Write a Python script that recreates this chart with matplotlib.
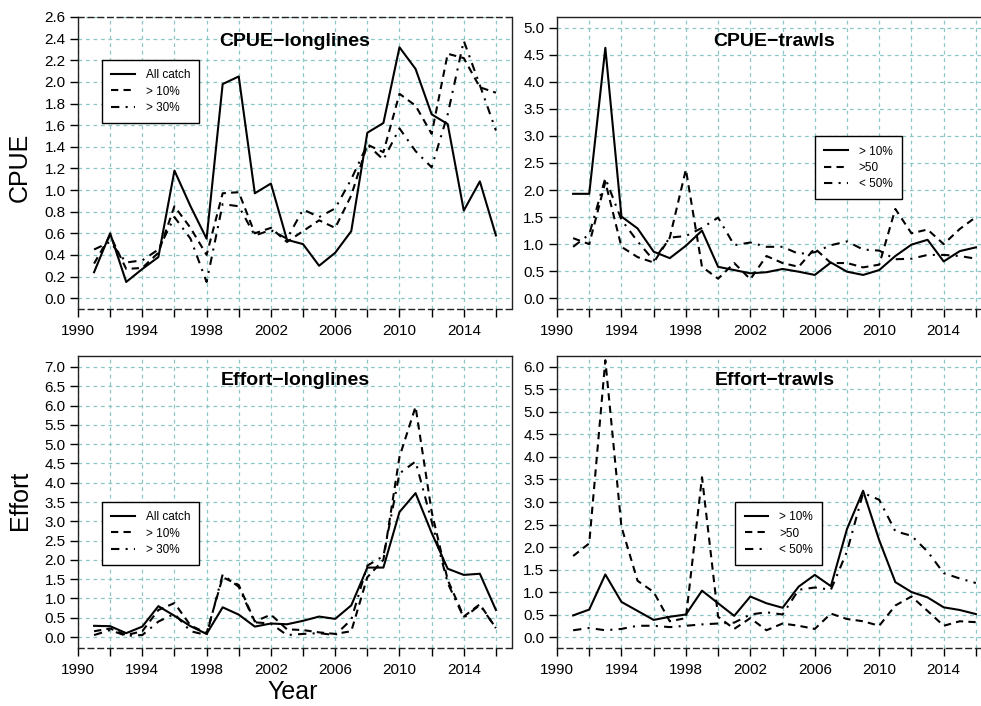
import numpy as np
import matplotlib
matplotlib.use("Agg")
import matplotlib.pyplot as plt

plt.rcParams['font.family'] = ['Liberation Sans', 'DejaVu Sans']

years = np.arange(1991, 2017)

# CPUE - longlines
cpue_ll_all = [0.24, 0.60, 0.15, 0.27, 0.38, 1.18, 0.85, 0.55, 1.98, 2.05, 0.97, 1.06, 0.54,
               0.50, 0.30, 0.42, 0.62, 1.53, 1.62, 2.32, 2.12, 1.70, 1.61, 0.81, 1.08, 0.58]
cpue_ll_10 = [0.32, 0.58, 0.27, 0.28, 0.42, 0.85, 0.65, 0.40, 0.97, 0.98, 0.60, 0.65, 0.52,
              0.62, 0.72, 0.65, 0.95, 1.42, 1.35, 1.89, 1.78, 1.52, 2.26, 2.22, 1.95, 1.90]
cpue_ll_30 = [0.45, 0.52, 0.33, 0.35, 0.45, 0.75, 0.55, 0.15, 0.87, 0.85, 0.58, 0.63, 0.55,
              0.82, 0.75, 0.83, 1.10, 1.42, 1.28, 1.57, 1.36, 1.21, 1.70, 2.38, 1.97, 1.55]

# CPUE - trawls
cpue_tr_10 = [1.93, 1.93, 4.63, 1.51, 1.29, 0.86, 0.74, 0.97, 1.25, 0.58, 0.52, 0.46, 0.48,
              0.54, 0.49, 0.43, 0.66, 0.49, 0.43, 0.52, 0.78, 0.99, 1.08, 0.68, 0.87, 0.94]
cpue_tr_50 = [1.11, 1.00, 2.15, 0.95, 0.76, 0.66, 1.12, 2.38, 0.58, 0.36, 0.65, 0.35, 0.78,
              0.65, 0.58, 0.92, 0.65, 0.65, 0.57, 0.62, 1.65, 1.20, 1.27, 1.00, 1.28, 1.50]
cpue_tr_lt50 = [0.95, 1.18, 2.22, 1.45, 1.05, 0.70, 1.12, 1.15, 1.30, 1.49, 0.98, 1.03, 0.95,
                0.95, 0.82, 0.85, 0.98, 1.05, 0.90, 0.88, 0.72, 0.73, 0.80, 0.80, 0.78, 0.73]

# Effort - longlines
eff_ll_all = [0.29, 0.28, 0.10, 0.27, 0.80, 0.55, 0.28, 0.08, 0.77, 0.58, 0.27, 0.35, 0.33,
              0.42, 0.53, 0.47, 0.82, 1.80, 1.80, 3.24, 3.73, 2.70, 1.77, 1.61, 1.64, 0.70]
eff_ll_10 = [0.15, 0.22, 0.05, 0.15, 0.70, 0.88, 0.30, 0.10, 1.55, 1.35, 0.40, 0.58, 0.20,
             0.18, 0.12, 0.08, 0.15, 1.55, 2.00, 4.67, 5.97, 3.25, 1.48, 0.53, 0.85, 0.23]
eff_ll_30 = [0.05, 0.18, 0.03, 0.05, 0.40, 0.60, 0.15, 0.05, 1.62, 1.30, 0.38, 0.35, 0.05,
             0.08, 0.10, 0.05, 0.45, 1.85, 2.10, 4.24, 4.55, 3.00, 1.40, 0.50, 0.83, 0.23]

# Effort - trawls
eff_tr_10 = [0.48, 0.61, 1.39, 0.78, 0.58, 0.38, 0.45, 0.50, 1.03, 0.75, 0.47, 0.90, 0.75,
             0.65, 1.12, 1.38, 1.13, 2.40, 3.25, 2.15, 1.22, 1.00, 0.88, 0.66, 0.60, 0.51]
eff_tr_50 = [1.80, 2.08, 6.15, 2.45, 1.25, 1.00, 0.35, 0.42, 3.55, 0.45, 0.18, 0.42, 0.15,
             0.30, 0.25, 0.18, 0.52, 0.40, 0.35, 0.25, 0.70, 0.90, 0.58, 0.25, 0.35, 0.33]
eff_tr_lt50 = [0.15, 0.20, 0.15, 0.18, 0.25, 0.25, 0.22, 0.25, 0.28, 0.30, 0.32, 0.50, 0.55,
               0.50, 1.05, 1.10, 1.05, 1.90, 3.20, 3.05, 2.35, 2.25, 1.90, 1.42, 1.30, 1.20]

ll_labels = ["All catch", "> 10%", "> 30%"]
tr_labels = ["> 10%", ">50", "< 50%"]

xticks = list(range(1990, 2017, 2))
xlabels = [str(y) if (y - 1990) % 4 == 0 else "" for y in xticks]

styles = ["-", (0, (3.5, 2.5)), (0, (4, 3, 1, 3))]
gridcol = "#8cc6c6"

fig = plt.figure(figsize=(9.81, 7.06), dpi=100)

w_ax = 434 / 981
h_ax = 292 / 706
panels = [
    # rect, series, labels, title, ylim, yticks, legend anchor, title x
    ([78 / 981, 1 - 309 / 706, w_ax, h_ax], [cpue_ll_all, cpue_ll_10, cpue_ll_30], ll_labels,
     "CPUE\u2212longlines", (-0.10, 2.6), np.arange(0, 2.61, 0.2), (0.055, 0.853), 0.5),
    ([557 / 981, 1 - 309 / 706, 435 / 981, h_ax], [cpue_tr_10, cpue_tr_50, cpue_tr_lt50], tr_labels,
     "CPUE\u2212trawls", (-0.20, 5.2), np.arange(0, 5.01, 0.5), (0.593, 0.592), 0.5),
    ([78 / 981, 1 - 648 / 706, w_ax, h_ax], [eff_ll_all, eff_ll_10, eff_ll_30], ll_labels,
     "Effort\u2212longlines", (-0.285, 7.285), np.arange(0, 7.01, 0.5), (0.055, 0.50), 0.5),
    ([557 / 981, 1 - 648 / 706, 435 / 981, h_ax], [eff_tr_10, eff_tr_50, eff_tr_lt50], tr_labels,
     "Effort\u2212trawls", (-0.244, 6.244), np.arange(0, 6.01, 0.5), (0.41, 0.50), 0.5),
]

for i, (rect, series, labels, title, ylim, yticks, anchor, tx) in enumerate(panels):
    ax = fig.add_axes(rect)
    for vals, ls, lab in zip(series, styles, labels):
        ax.plot(years, vals, color="black", linestyle=ls, linewidth=1.5, label=lab)
    ax.set_xlim(1990, 2017)
    ax.set_ylim(*ylim)
    ax.set_yticks(yticks)
    ax.set_yticklabels([f"{v:.1f}" for v in yticks])
    ax.set_xticks(xticks)
    ax.set_xticklabels(xlabels)
    ax.tick_params(direction="out", length=6, width=1, labelsize=11, pad=3)
    ax.tick_params(axis="x", pad=5)
    ax.set_axisbelow(True)
    ax.grid(True, color=gridcol, linestyle=(0, (3, 3)), linewidth=0.9)
    for s in ax.spines.values():
        s.set_linewidth(1)
        s.set_color("#222222")
    ax.spines["bottom"].set_linestyle((0, (4, 3)))
    if i == 0:
        ax.spines["top"].set_linestyle((0, (4, 3)))
    ax.text(tx, 0.915, title, transform=ax.transAxes, ha="center", va="center",
            fontsize=14, fontweight="bold")
    leg = ax.legend(loc="upper left", bbox_to_anchor=anchor, borderaxespad=0,
                    fontsize=8.5, handlelength=2.0, handletextpad=0.9,
                    labelspacing=0.35, borderpad=0.8, fancybox=False,
                    framealpha=1, edgecolor="black")
    leg.get_frame().set_linewidth(1)

fig.text(20 / 981, 1 - 167 / 706, "CPUE", rotation=90, ha="center", va="center", fontsize=18)
fig.text(20 / 981, 1 - 500 / 706, "Effort", rotation=90, ha="center", va="center", fontsize=18)
fig.text(293 / 981, 1 - 692 / 706, "Year", ha="center", va="center", fontsize=18)

fig.savefig("out.png", dpi=100)
